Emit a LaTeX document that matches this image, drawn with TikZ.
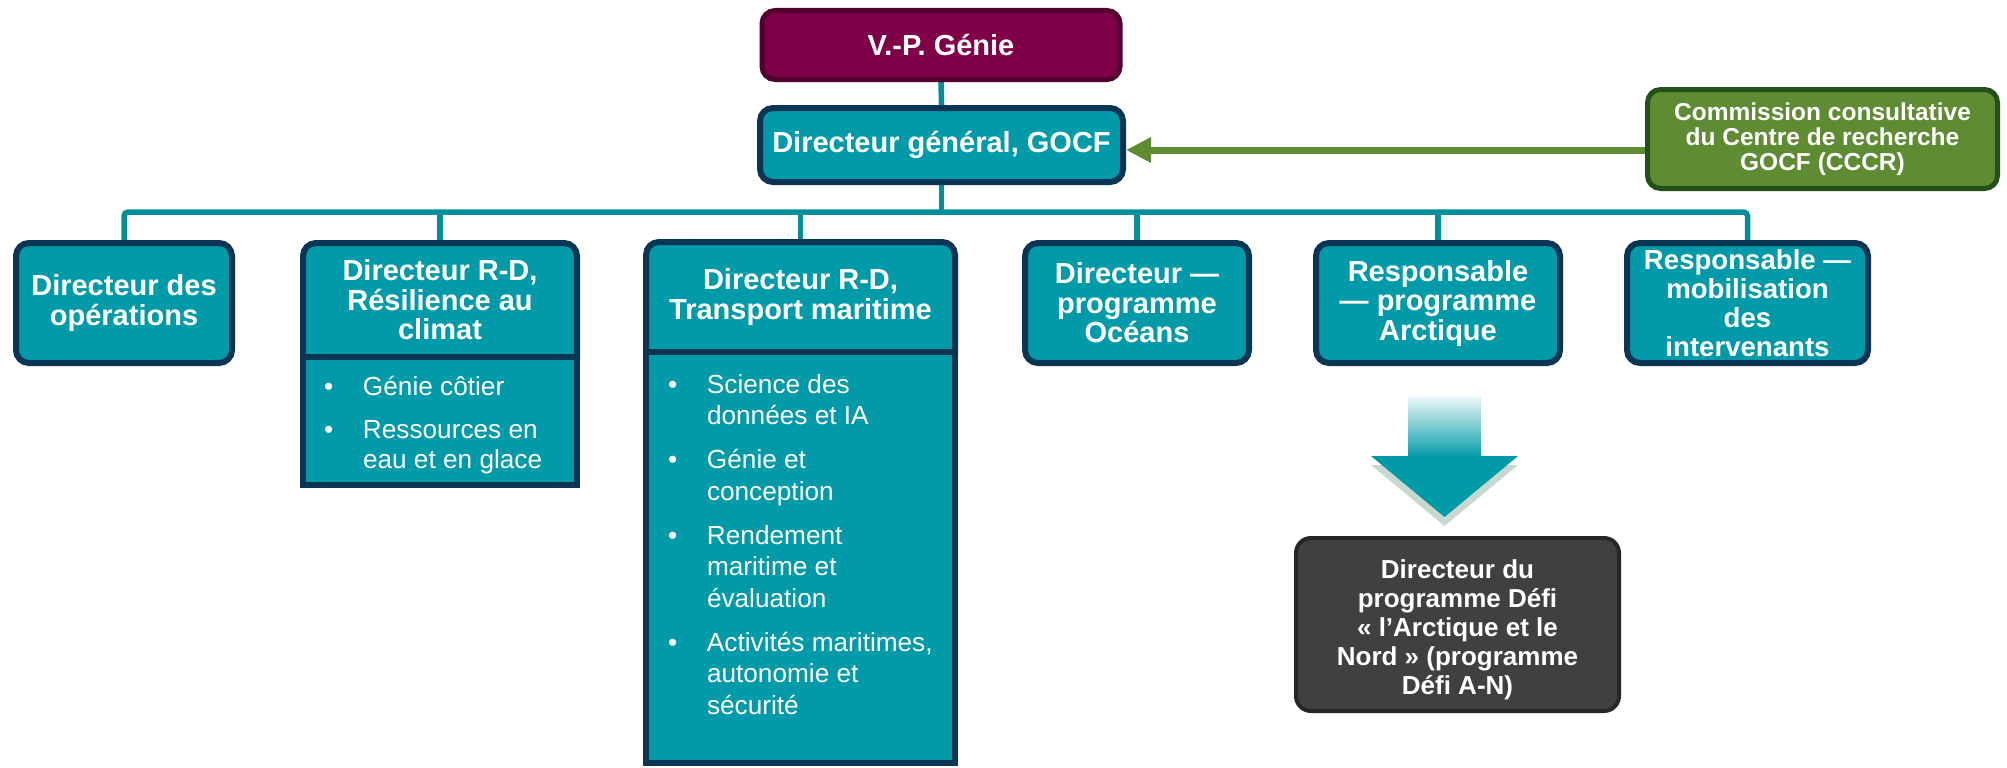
\documentclass[tikz,border=0pt]{standalone}
\usepackage{fontspec}
\setmainfont{Liberation Sans}
\usetikzlibrary{arrows.meta,backgrounds}
\definecolor{tealc}{HTML}{009AA8}
\definecolor{navy}{HTML}{0B3554}
\definecolor{connc}{HTML}{008E9B}
\definecolor{vpfill}{HTML}{7F0048}
\definecolor{vpbord}{HTML}{52002E}
\definecolor{gfill}{HTML}{5F8B33}
\definecolor{gbord}{HTML}{24511A}
\definecolor{garrow}{HTML}{5F8B33}
\definecolor{dfill}{HTML}{404040}
\definecolor{dbord}{HTML}{262626}
\definecolor{shadowc}{HTML}{C7D9CF}
\newcommand\hdrfont{\fontsize{29}{29.5}\selectfont\bfseries}
\newcommand\comfont{\fontsize{24.5}{25}\selectfont\bfseries}
\newcommand\darkfont{\fontsize{26}{29}\selectfont\bfseries}
\newcommand\listfont{\fontsize{26.2}{30.5}\selectfont}
\newcommand\tlistfont{\fontsize{26.2}{31.5}\selectfont}
\newcommand\mobfont{\fontsize{27.6}{29}\selectfont\bfseries}
\newcommand\itm[1]{\hangindent=39pt\hangafter=1\noindent\makebox[39pt][l]{\textbullet}#1\par}
\tikzset{
  hdr/.style={text=white, font=\hdrfont, align=center, inner sep=0pt, outer sep=0pt},
  tbox/.style={hdr, draw=navy, fill=tealc, line width=6pt, rounded corners=13pt, outer sep=3pt},
  bd/.style={draw=navy, fill=tealc, line width=6pt},
  conn/.style={draw=connc, line width=5.5pt},
  listnode/.style={text=white, inner sep=0pt, outer sep=0pt},
  garr/.style={draw=garrow, line width=7pt, -{Triangle[length=25pt, width=24pt]}},
}
\begin{document}
\begin{tikzpicture}[x=1pt,y=-1pt]
\useasboundingbox (0,0) rectangle (2007,768);
% top
\node[tbox, draw=vpbord, fill=vpfill, line width=5pt, outer sep=2.5pt, minimum width=358pt, minimum height=69pt] (vp) at (941,45) {V.-P. Génie};
\node[tbox, minimum width=363pt, minimum height=74pt] (dg) at (941.5,145) {Directeur général, GOCF};
\node[tbox, draw=gbord, fill=gfill, line width=5pt, outer sep=2.5pt, font=\comfont, minimum width=350pt, minimum height=99pt] (comm) at (1822.5,139) {Commission consultative\\du Centre de recherche\\GOCF (CCCR)};
% second row
\node[tbox, minimum width=216pt, minimum height=120pt] (ops) at (124,303) {Directeur des\\opérations};
\node[hdr, minimum width=274pt, minimum height=114pt] (res) at (440,300) {Directeur R-D,\\Résilience au\\climat};
\node[hdr, minimum width=309pt, minimum height=110pt] (tra) at (800.5,297) {Directeur R-D,\\Transport maritime};
\node[tbox, minimum width=224pt, minimum height=120pt] (oce) at (1137,303) {Directeur —\\programme\\Océans};
\node[tbox, minimum width=244pt, minimum height=120pt] (arc) at (1438,303) {Responsable\\— programme\\Arctique};
\node[tbox, minimum width=241pt, minimum height=120pt, font=\mobfont] (mob) at (1747.5,303) {Responsable —\\mobilisation\\des\\intervenants};
% lists
\node[listnode, anchor=base west] (resl) at (324,395) {\parbox[t]{250pt}{\listfont\parskip=12.5pt
\itm{Génie côtier}\itm{Ressources en\\eau et en glace}}};
\node[listnode, anchor=base west] (tral) at (668,393) {\parbox[t]{270pt}{\tlistfont\parskip=12.5pt
\itm{Science des\\données et IA}\itm{Génie et\\conception}\itm{Rendement\\maritime et\\évaluation}\itm{Activités maritimes,\\autonomie et\\sécurité}}};
% dark box
\node[tbox, draw=dbord, fill=dfill, line width=4pt, outer sep=2pt, font=\darkfont, rounded corners=15pt, minimum width=323pt, minimum height=173pt] (dark) at (1457.5,624.5) {\rule{0pt}{29pt}Directeur du\\programme Défi\\« l’Arctique et le\\Nord » (programme\\Défi A-N)};
% coordinates
\coordinate (busy) at (0,212);
\coordinate (ay) at (0,150);
\coordinate (resbot) at (577,485);
\coordinate (trabot) at (955,763);
\begin{scope}[on background layer]
  \fill[white] (0,0) rectangle (2007,768);
  \draw[conn] (vp.south) -- (dg.north);
  \draw[conn, rounded corners=4pt] (ops.north) -- (ops.north |- busy) -- (mob.north |- busy) -- (mob.north);
  \draw[conn] (dg.south) -- (dg.south |- busy);
  \foreach \nm in {res,tra,oce,arc} \draw[conn] (\nm.north) -- (\nm.north |- busy);
  \draw[bd, rounded corners=13pt] (res.north west) rectangle ([yshift=-16pt]res.south east);
  \draw[bd] (res.south west) rectangle (resbot);
  \draw[bd, rounded corners=13pt] (tra.north west) rectangle ([yshift=-16pt]tra.south east);
  \draw[bd] (tra.south west) rectangle (trabot);
\end{scope}
% green arrow
\draw[garr] (comm.west |- ay) -- (dg.east |- ay);
% big arrow
\fill[shadowc] (1371,465) -- (1518,465) -- (1444.5,526) -- cycle;
\shade[top color=tealc!6, bottom color=tealc] (1408,396) rectangle (1481,458);
\fill[tealc] (1371,456) -- (1518,456) -- (1444.5,517) -- cycle;
\end{tikzpicture}
\end{document}
